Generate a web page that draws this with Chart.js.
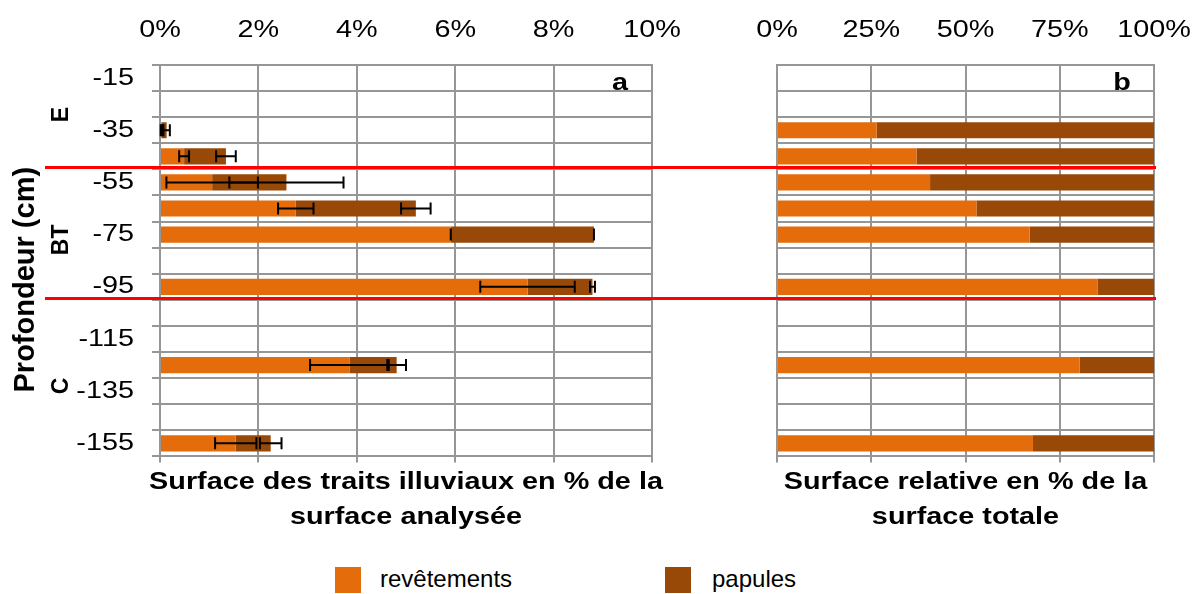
<!DOCTYPE html>
<html>
<head>
<meta charset="utf-8">
<script src="https://cdn.jsdelivr.net/npm/chart.js@4"></script>
<style>
  body { margin: 0; background: #fff; font-family: "Liberation Sans", Arial, sans-serif; }
  #wrap { position: relative; width: 1194px; height: 594px; overflow: hidden; }
  #left { position: absolute; left: 0; top: 0; }
  #right { position: absolute; left: 700px; top: 0; }
  .swatch { position: absolute; top: 567px; width: 26px; height: 26px; }
  .key { position: absolute; top: 564px; font-size: 24px; line-height: 30px; color: #000; }
</style>
</head>
<body>
<div id="wrap">
  <canvas id="left" width="700" height="535"></canvas>
  <canvas id="right" width="494" height="535"></canvas>
  <div class="swatch" style="left:335px;background:#E46C0A"></div>
  <div class="key" style="left:380px">revêtements</div>
  <div class="swatch" style="left:665px;background:#984807"></div>
  <div class="key" style="left:712px">papules</div>
</div>
<script>
// depth classes (cm), one band every 10 cm
const depths = ['-15', '-25', '-35', '-45', '-55', '-65', '-75', '-85', '-95', '-105', '-115', '-125', '-135', '-145', '-155'];

// a: % of analysed surface
const revetements = [null, null, 0.035, 0.49, 1.06, 2.76, 5.91, null, 7.47, null, null, 3.85, null, null, 1.54];
const papules     = [null, null, 0.10, 0.85, 1.51, 2.44, 2.91, null, 1.32, null, null, 0.96, null, null, 0.71];
const revetementsErr = [null, null, 0.02, 0.10, 0.93, 0.36, 0, null, 0.96, null, null, 0.80, null, null, 0.42];
const papulesErr     = [null, null, 0.065, 0.20, 1.16, 0.30, 0, null, 0.05, null, null, 0.19, null, null, 0.22];

// b: relative share of total surface
const revetementsRel = [null, null, 26.4, 37.0, 40.6, 52.9, 67.0, null, 85.0, null, null, 80.3, null, null, 67.9];
const papulesRel     = [null, null, 73.6, 63.0, 59.4, 47.1, 33.0, null, 15.0, null, null, 19.7, null, null, 32.1];

// horizon limits and names
const horizonLimits = [-50, -100];
const horizonNames = ['E', 'BT', 'C'];
const horizonLabelDepths = [-29, -77, -133];

const ORANGE = '#E46C0A';
const BROWN = '#984807';
const GRID = '#969696';
const FONT = '"Liberation Sans", Arial, sans-serif';
const TEXT_STRETCH = 1.2;

Chart.defaults.font.family = FONT;
Chart.defaults.color = '#000';

function depthIndex(depth) {
  const d0 = parseFloat(depths[0]);
  const step = d0 - parseFloat(depths[1]);
  return (d0 - depth) / step;
}

// axis text is drawn a little wider than the font's own proportions
const stretchText = {
  id: 'stretchText',
  beforeInit(chart) {
    const ctx = chart.ctx;
    const plain = ctx.fillText.bind(ctx);
    ctx.plainFillText = plain;
    ctx.fillText = (text, x, y) => {
      ctx.save();
      ctx.translate(x, y);
      ctx.scale(TEXT_STRETCH, 1);
      plain(text, 0, 0);
      ctx.restore();
    };
  }
};

// red horizon limits
const horizonLines = {
  id: 'horizonLines',
  afterDatasetsDraw(chart, args, opts) {
    const ctx = chart.ctx, y = chart.scales.y;
    const x1 = opts.toEdge ? chart.width : chart.chartArea.right + 2;
    ctx.save();
    ctx.strokeStyle = '#FF0000';
    ctx.lineWidth = 3;
    horizonLimits.forEach(depth => {
      const py = Math.round(y.getPixelForValue(depthIndex(depth))) - 1.5;
      ctx.beginPath();
      ctx.moveTo(opts.from, py);
      ctx.lineTo(x1, py);
      ctx.stroke();
    });
    ctx.restore();
  }
};

// error bars centred on the end of each stacked segment
const errorBars = {
  id: 'errorBars',
  afterDatasetsDraw(chart) {
    const ctx = chart.ctx, x = chart.scales.x;
    const errs = [revetementsErr, papulesErr];
    ctx.save();
    ctx.strokeStyle = '#000';
    ctx.lineWidth = 2;
    chart.data.datasets.forEach((ds, d) => {
      const meta = chart.getDatasetMeta(d);
      ds.data.forEach((v, i) => {
        if (v == null || errs[d][i] == null) return;
        let end = 0;
        for (let k = 0; k <= d; k++) end += chart.data.datasets[k].data[i] || 0;
        const py = meta.data[i].y;
        const xa = x.getPixelForValue(end - errs[d][i]);
        const xb = x.getPixelForValue(end + errs[d][i]);
        ctx.beginPath();
        ctx.moveTo(xa, py); ctx.lineTo(xb, py);
        ctx.moveTo(xa, py - 6); ctx.lineTo(xa, py + 6);
        ctx.moveTo(xb, py - 6); ctx.lineTo(xb, py + 6);
        ctx.stroke();
      });
    });
    ctx.restore();
  }
};

// panel letter in the top right corner
const panelLetter = {
  id: 'panelLetter',
  afterDraw(chart, args, opts) {
    const ctx = chart.ctx, a = chart.chartArea;
    ctx.save();
    ctx.font = 'bold 24px ' + FONT;
    ctx.fillStyle = '#000';
    ctx.textAlign = 'center';
    ctx.textBaseline = 'middle';
    ctx.fillText(opts.text, a.right - 32, a.top + 18);
    ctx.restore();
  }
};

// depth title and horizon names, rotated
const depthLabels = {
  id: 'depthLabels',
  afterDraw(chart) {
    const ctx = chart.ctx, y = chart.scales.y, a = chart.chartArea;
    const draw = (text, font, px, py) => {
      ctx.save();
      ctx.fillStyle = '#000';
      ctx.textAlign = 'center';
      ctx.textBaseline = 'middle';
      ctx.font = font;
      ctx.translate(px, py);
      ctx.rotate(-Math.PI / 2);
      ctx.plainFillText(text, 0, 0);
      ctx.restore();
    };
    draw('Profondeur (cm)', 'bold 29px ' + FONT, 26, (a.top + a.bottom) / 2 + 19);
    horizonNames.forEach((name, i) => {
      draw(name, 'bold 23px ' + FONT, 62, y.getPixelForValue(depthIndex(horizonLabelDepths[i])));
    });
  }
};

function makeChart(id, revData, papData, opts) {
  return new Chart(document.getElementById(id), {
    type: 'bar',
    data: {
      labels: depths,
      datasets: [
        { label: 'revêtements', data: revData, backgroundColor: ORANGE },
        { label: 'papules', data: papData, backgroundColor: BROWN }
      ]
    },
    options: {
      indexAxis: 'y',
      responsive: false,
      animation: false,
      categoryPercentage: 1,
      barPercentage: 0.62,
      layout: { padding: { left: 0, right: opts.padRight, top: 0, bottom: 0 } },
      scales: {
        x: {
          position: 'top',
          stacked: true,
          min: 0,
          max: opts.max,
          afterFit: s => { s.height = 65; s.paddingLeft = 0; s.paddingRight = 0; },
          ticks: {
            stepSize: opts.step,
            padding: 20,
            font: { size: 24 },
            callback: v => v + '%'
          },
          grid: { color: GRID, lineWidth: 2, drawTicks: false },
          border: { color: GRID, width: 2 }
        },
        // short tick marks below the bottom edge
        xb: {
          type: 'linear',
          position: 'bottom',
          min: 0,
          max: opts.max,
          afterFit: s => { s.paddingLeft = 0; s.paddingRight = 0; },
          ticks: { display: false, stepSize: opts.step },
          grid: { color: GRID, lineWidth: 2, drawOnChartArea: false, tickLength: 6 },
          border: { display: false }
        },
        y: {
          stacked: true,
          afterFit: s => { s.width = opts.axisWidth; },
          ticks: {
            display: opts.showDepths,
            autoSkip: false,
            padding: 18,
            font: { size: 24 },
            callback: (v, i) => (i % 2 === 0 ? depths[i] : '')
          },
          grid: { color: GRID, lineWidth: 2, drawTicks: opts.showDepths, tickLength: 8 },
          border: { color: GRID, width: 2 }
        }
      },
      plugins: {
        legend: { display: false },
        tooltip: { enabled: false },
        title: {
          display: true,
          position: 'bottom',
          fullSize: false,
          text: opts.title,
          color: '#000',
          font: { size: 24, weight: 'bold', lineHeight: 1.45 },
          padding: { top: 3, bottom: 0 }
        },
        horizonLines: opts.lines,
        panelLetter: { text: opts.letter }
      }
    },
    plugins: [stretchText].concat(opts.plugins)
  });
}

makeChart('left', revetements, papules, {
  max: 10, step: 2, padRight: 48, axisWidth: 160, showDepths: true,
  title: ['Surface des traits illuviaux en % de la', 'surface analysée'],
  letter: 'a',
  lines: { from: 45, toEdge: true },
  plugins: [horizonLines, errorBars, panelLetter, depthLabels]
});

makeChart('right', revetementsRel, papulesRel, {
  max: 100, step: 25, padRight: 40, axisWidth: 77, showDepths: false,
  title: ['Surface relative en % de la', 'surface totale'],
  letter: 'b',
  lines: { from: 0, toEdge: false },
  plugins: [horizonLines, panelLetter]
});
</script>
</body>
</html>
